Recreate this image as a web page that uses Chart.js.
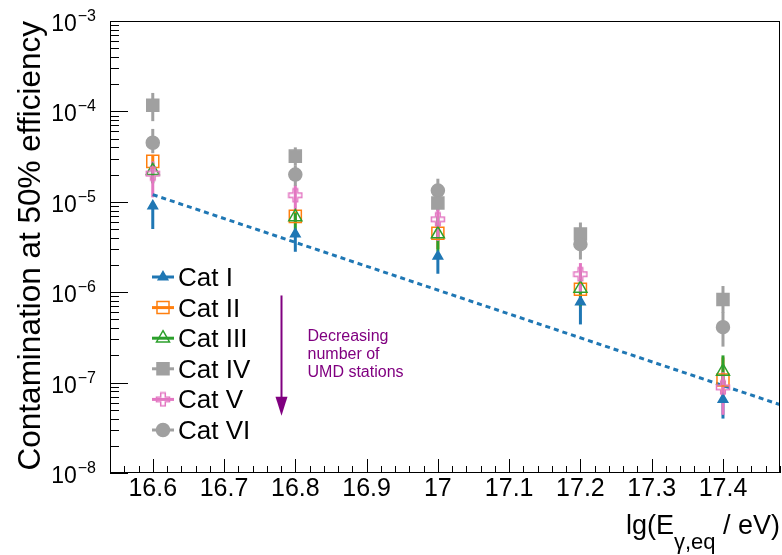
<!DOCTYPE html>
<html>
<head>
<meta charset="utf-8">
<script src="https://cdn.jsdelivr.net/npm/chart.js@4.4.1/dist/chart.umd.min.js"></script>
<style>
  html, body { margin: 0; padding: 0; background: #fff; }
  canvas { display: block; }
</style>
</head>
<body>
<canvas id="chart" width="782" height="555"></canvas>
<script>
// lg(E) bins
const energies = [16.6, 16.8, 17.0, 17.2, 17.4];
const categories = ['Cat I', 'Cat II', 'Cat III', 'Cat IV', 'Cat V', 'Cat VI'];

// contamination values + error bar limits per category
const catI     = [9.0e-6, 4.4e-6, 2.5e-6, 7.8e-7, 6.5e-8];
const catILo   = [5.0e-6, 2.8e-6, 1.6e-6, 4.4e-7, 4.0e-8];
const catIHi   = [9.0e-6, 4.4e-6, 2.5e-6, 7.8e-7, 6.5e-8];
const catII    = [2.8e-5, 6.9e-6, 4.5e-6, 1.08e-6, 1.07e-7];
const catIILo  = [2.4e-5, 6.0e-6, 3.0e-6, 8.6e-7, 7.2e-8];
const catIIHi  = [3.3e-5, 7.8e-6, 5.4e-6, 1.3e-6, 1.9e-7];
const catIII   = [2.2e-5, 6.8e-6, 4.4e-6, 1.1e-6, 1.33e-7];
const catIIILo = [1.6e-5, 4.3e-6, 2.8e-6, 7.0e-7, 9.4e-8];
const catIIIHi = [2.7e-5, 7.5e-6, 6.9e-6, 1.7e-6, 2.0e-7];
const catIV    = [1.17e-4, 3.2e-5, 9.7e-6, 4.4e-6, 8.3e-7];
const catIVLo  = [7.8e-5, 2.5e-5, 7.9e-6, 3.6e-6, 5.9e-7];
const catIVHi  = [1.6e-4, 4.0e-5, 1.15e-5, 5.9e-6, 1.17e-6];
const catV     = [2.05e-5, 1.18e-5, 6.4e-6, 1.58e-6, 8.85e-8];
const catVLo   = [1.12e-5, 7.9e-6, 3.7e-6, 1.0e-6, 4.4e-8];
const catVHi   = [2.8e-5, 1.53e-5, 9.0e-6, 2.1e-6, 1.3e-7];
const catVI    = [4.5e-5, 2.0e-5, 1.33e-5, 3.4e-6, 4.1e-7];
const catVILo  = [3.45e-5, 1.5e-5, 1.15e-5, 2.3e-6, 2.5e-7];
const catVIHi  = [6.4e-5, 2.5e-5, 1.8e-5, 4.0e-6, 6.0e-7];

// dotted fit line
const fitX = [16.6, 17.48];
const fitY = [1.2e-5, 5.7e-8];

// axis ticks
const xTicks = [16.6, 16.7, 16.8, 16.9, 17.0, 17.1, 17.2, 17.3, 17.4];
const xTickLabels = ['16.6', '16.7', '16.8', '16.9', '17', '17.1', '17.2', '17.3', '17.4'];
const yTickExps = [-8, -7, -6, -5, -4, -3];

const FONT = "'Liberation Sans', Arial, sans-serif";
const BLUE = '#1f77b4', ORANGE = '#ff7f0e', GREEN = '#2ca02c', GREY = '#a0a0a0', PINK = '#e377c2', PURPLE = '#800080';

// open cross marker (ROOT style 28)
function openCross(color) {
  const c = document.createElement('canvas');
  c.width = 16; c.height = 16;
  const g = c.getContext('2d');
  const m = 8, s = 6.5, a = 2.3;
  g.strokeStyle = color; g.lineWidth = 1.5;
  g.beginPath();
  g.moveTo(m - a, m - s); g.lineTo(m + a, m - s); g.lineTo(m + a, m - a);
  g.lineTo(m + s, m - a); g.lineTo(m + s, m + a); g.lineTo(m + a, m + a);
  g.lineTo(m + a, m + s); g.lineTo(m - a, m + s); g.lineTo(m - a, m + a);
  g.lineTo(m - s, m + a); g.lineTo(m - s, m - a); g.lineTo(m - a, m - a);
  g.closePath(); g.stroke();
  return c;
}

const series = [
  { label: categories[0], vals: catI,   lo: catILo,   hi: catIHi,   color: BLUE,   style: 'triangle', radius: 5.5, fill: BLUE },
  { label: categories[1], vals: catII,  lo: catIILo,  hi: catIIHi,  color: ORANGE, style: 'rect',     radius: 8.5, fill: 'rgba(0,0,0,0)' },
  { label: categories[2], vals: catIII, lo: catIIILo, hi: catIIIHi, color: GREEN,  style: 'triangle', radius: 7.5, fill: 'rgba(0,0,0,0)' },
  { label: categories[3], vals: catIV,  lo: catIVLo,  hi: catIVHi,  color: GREY,   style: 'rect',     radius: 8.5, fill: GREY },
  { label: categories[4], vals: catV,   lo: catVLo,   hi: catVHi,   color: PINK,   style: openCross(PINK), radius: 7, fill: 'rgba(0,0,0,0)' },
  { label: categories[5], vals: catVI,  lo: catVILo,  hi: catVIHi,  color: GREY,   style: 'circle',   radius: 6.5, fill: GREY }
];

const datasets = series.map((s, k) => ({
  label: s.label,
  data: energies.map((e, i) => ({ x: e, y: s.vals[i] })),
  showLine: false,
  pointStyle: s.style,
  pointRadius: s.radius,
  pointBorderWidth: 1.5,
  pointBorderColor: s.color,
  pointBackgroundColor: s.fill,
  order: 6 - k
}));

datasets.push({
  label: 'fit',
  data: fitX.map((x, i) => ({ x: x, y: fitY[i] })),
  showLine: true,
  borderColor: BLUE,
  borderWidth: 3,
  borderDash: [5, 4],
  pointRadius: 0,
  order: 10
});

const rootPlugin = {
  id: 'rootStyle',
  beforeDatasetsDraw(chart) {
    const { ctx, scales: { x, y } } = chart;
    ctx.save();
    ctx.lineWidth = 3;
    series.forEach(s => {
      ctx.strokeStyle = s.color;
      energies.forEach((e, i) => {
        const px = x.getPixelForValue(e);
        ctx.beginPath();
        ctx.moveTo(px, y.getPixelForValue(s.lo[i]));
        ctx.lineTo(px, y.getPixelForValue(s.hi[i]));
        ctx.stroke();
      });
    });
    ctx.restore();
  },
  afterDraw(chart) {
    const { ctx, chartArea: a, scales: { x, y } } = chart;
    ctx.save();

    // frame
    ctx.strokeStyle = '#000';
    ctx.lineWidth = 1;
    ctx.strokeRect(Math.round(a.left) + 0.5, Math.round(a.top) + 0.5, Math.round(a.right - a.left) - 1, Math.round(a.bottom - a.top) - 1);

    // x ticks (inside)
    ctx.beginPath();
    for (let v = 16.56; v < 17.481; v += 0.02) {
      const px = Math.round(x.getPixelForValue(v)) + 0.5;
      const major = Math.abs(v * 10 - Math.round(v * 10)) < 1e-6;
      ctx.moveTo(px, a.bottom);
      ctx.lineTo(px, a.bottom - (major ? 14 : 7));
    }
    // y ticks (inside)
    for (let e = -8; e < -3; e++) {
      for (let m = 1; m < 10; m++) {
        const py = Math.round(y.getPixelForValue(m * Math.pow(10, e))) + 0.5;
        ctx.moveTo(a.left, py);
        ctx.lineTo(a.left + (m === 1 ? 18 : 9), py);
      }
    }
    ctx.stroke();

    // y tick labels 10^n
    ctx.fillStyle = '#000';
    ctx.textAlign = 'right';
    ctx.textBaseline = 'alphabetic';
    yTickExps.forEach(e => {
      const py = y.getPixelForValue(Math.pow(10, e));
      const sup = '\u2212' + (-e);
      ctx.font = '16px ' + FONT;
      const sw = ctx.measureText(sup).width;
      ctx.fillText(sup, 96, py);
      ctx.font = '23px ' + FONT;
      ctx.fillText('10', 96 - sw - 1, py + 10);
    });

    // y title
    ctx.save();
    ctx.translate(40, a.top);
    ctx.rotate(-Math.PI / 2);
    ctx.font = '31.5px ' + FONT;
    ctx.textAlign = 'right';
    ctx.fillText('Contamination at 50% efficiency', 0, 0);
    ctx.restore();

    // x title: lg(E_{γ,eq} / eV)
    ctx.textAlign = 'left';
    ctx.font = '27px ' + FONT;
    const w1 = ctx.measureText('lg(E').width;
    const w3 = ctx.measureText(' / eV)').width;
    ctx.font = '22px ' + FONT;
    const w2 = ctx.measureText('\u03b3,eq').width;
    let tx = a.right - w1 - w2 - w3;
    ctx.font = '27px ' + FONT;
    ctx.fillText('lg(E', tx, 534);
    ctx.font = '22px ' + FONT;
    ctx.fillText('\u03b3,eq', tx + w1, 549);
    ctx.font = '27px ' + FONT;
    ctx.fillText(' / eV)', tx + w1 + w2, 534);

    // legend
    const lx = a.left + 53, ly0 = a.top + 256, dy = 30.6;
    series.forEach((s, k) => {
      const ly = ly0 + k * dy;
      ctx.strokeStyle = s.color;
      ctx.lineWidth = 3;
      ctx.beginPath();
      ctx.moveTo(lx - 11, ly);
      ctx.lineTo(lx + 11, ly);
      ctx.stroke();
      ctx.lineWidth = 1.5;
      ctx.fillStyle = s.fill;
      Chart.helpers.drawPoint(ctx, { pointStyle: s.style, radius: s.radius, borderWidth: 1.5, rotation: 0 }, lx, ly);
      ctx.fillStyle = '#000';
      ctx.font = '26px ' + FONT;
      ctx.fillText(s.label, lx + 15, ly + 9);
    });

    // "Decreasing number of UMD stations" arrow
    const ax = Math.round(x.getPixelForValue(16.78)) + 0.5;
    const aTop = y.getPixelForValue(9.2e-7);
    const aTip = y.getPixelForValue(4.3e-8);
    ctx.strokeStyle = PURPLE;
    ctx.fillStyle = PURPLE;
    ctx.lineWidth = 2;
    ctx.beginPath();
    ctx.moveTo(ax, aTop);
    ctx.lineTo(ax, aTip - 15);
    ctx.stroke();
    ctx.beginPath();
    ctx.moveTo(ax - 6, aTip - 19);
    ctx.lineTo(ax + 6, aTip - 19);
    ctx.lineTo(ax, aTip);
    ctx.closePath();
    ctx.fill();
    ctx.font = '16px ' + FONT;
    ['Decreasing', 'number of', 'UMD stations'].forEach((t, i) => {
      ctx.fillText(t, ax + 26, aTop + 46 + i * 18);
    });

    ctx.restore();
  }
};

new Chart(document.getElementById('chart'), {
  type: 'scatter',
  data: { datasets: datasets },
  options: {
    responsive: false,
    animation: false,
    layout: { autoPadding: false, padding: { top: 21, right: 2, left: 0, bottom: 0 } },
    plugins: { legend: { display: false }, tooltip: { enabled: false } },
    scales: {
      x: {
        type: 'linear',
        min: 16.54,
        max: 17.48,
        grid: { display: false, drawTicks: false },
        border: { display: false },
        afterBuildTicks: s => { s.ticks = xTicks.map(v => ({ value: v })); },
        afterFit: s => { s.height = 82; },
        ticks: {
          font: { family: FONT, size: 25 },
          color: '#000',
          padding: 1,
          maxRotation: 0,
          autoSkip: false,
          callback: (v, i) => xTickLabels[i]
        }
      },
      y: {
        type: 'logarithmic',
        min: 1e-8,
        max: 1e-3,
        grid: { display: false, drawTicks: false },
        border: { display: false },
        ticks: { display: false },
        afterFit: s => { s.width = 110; }
      }
    }
  },
  plugins: [rootPlugin]
});
</script>
</body>
</html>
